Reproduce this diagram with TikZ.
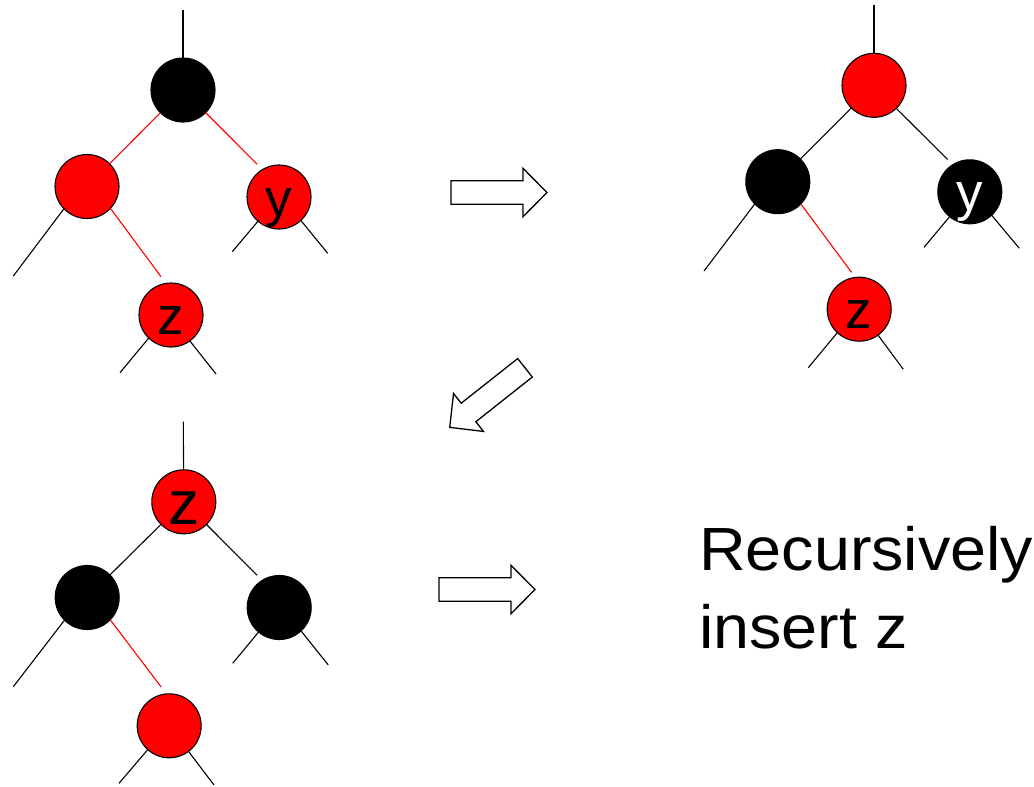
\documentclass[tikz,border=0pt]{standalone}
\usepackage{fontspec}
\setmainfont{Liberation Sans}
\begin{document}
\begin{tikzpicture}[x=1pt, y=-1pt,
  rbnode/.style={circle, draw=black, line width=1.1pt, minimum size=64pt,
    inner sep=0pt, outer sep=0pt, text height=38pt, text depth=0pt,
    font=\fontsize{53}{60}\selectfont},
  rednode/.style={rbnode, fill=red},
  blacknode/.style={rbnode, fill=black, text=white},
  bigletter/.style={text height=45pt, font=\fontsize{62}{70}\selectfont},
  edge/.style={line width=1.1pt, black},
  redge/.style={line width=1.1pt, red},
  caption/.style={anchor=base west, inner sep=0pt, font=\fontsize{61}{72}\selectfont},
  blockarrow/.pic={\draw[line width=1.3pt, fill=white, line join=miter]
    (0,11.8) -- (72,11.8) -- (72,24.2) -- (96,0) -- (72,-24.2) -- (72,-11.8) -- (0,-11.8) -- cycle;}
]
\useasboundingbox (0,0) rectangle (1034,787);

% ---- first tree: black root, red children ----
\node[blacknode] (root1) at (183,90) {};
\node[rednode] (left1) at (87,186.5) {};
\node[rednode] (y1) at (279,197) {y};
\node[rednode] (z1) at (171,315) {z};
\coordinate (t1) at (183,10);
\coordinate (l1a) at (13.3,276);
\coordinate (y1a) at (232.3,251.7);
\coordinate (y1b) at (327.7,253.3);
\coordinate (z1a) at (120,372.7);
\coordinate (z1b) at (216,374);
\draw[edge] (t1) -- (root1);
\draw[redge] (root1) -- (left1);
\draw[redge, shorten >=7.6pt] (root1.-45) -- (y1.121);
\draw[redge, shorten >=8.5pt] (left1.-43) -- (z1.99);
\draw[edge] (left1.224) -- (l1a);
\draw[edge] (y1.229) -- (y1a);
\draw[edge] (y1.-47) -- (y1b);
\draw[edge] (z1.226) -- (z1a);
\draw[edge] (z1.-54) -- (z1b);

% ---- second tree: recoloured ----
\node[rednode] (root2) at (874,85.3) {};
\node[blacknode] (left2) at (777.8,181.7) {};
\node[blacknode] (y2) at (969.8,191.8) {y};
\node[rednode] (z2) at (859.2,309.2) {z};
\coordinate (t2) at (874,5);
\coordinate (l2a) at (704,271);
\coordinate (y2a) at (924,247.3);
\coordinate (y2b) at (1019.3,248.3);
\coordinate (z2a) at (808.3,367.7);
\coordinate (z2b) at (903.3,369.3);
\draw[edge] (t2) -- (root2);
\draw[edge] (root2) -- (left2);
\draw[edge, shorten >=7.3pt] (root2.-46) -- (y2.122);
\draw[redge, shorten >=6.3pt] (left2.-44) -- (z2.97);
\draw[edge] (left2.224) -- (l2a);
\draw[edge] (y2.231) -- (y2a);
\draw[edge] (y2.-47) -- (y2b);
\draw[edge] (z2.227) -- (z2a);
\draw[edge] (z2.-54) -- (z2b);

% ---- third tree: z moved up ----
\node[rednode, bigletter] (root3) at (183.8,501.8) {z};
\node[blacknode] (left3) at (87.2,597.5) {};
\node[blacknode] (right3) at (279.2,607.5) {};
\node[rednode] (bot3) at (169.2,725.8) {};
\coordinate (t3) at (183.3,421.7);
\coordinate (l3a) at (13.3,686.7);
\coordinate (r3a) at (232.7,663.3);
\coordinate (r3b) at (328.3,665);
\coordinate (b3a) at (119,783.3);
\coordinate (b3b) at (214,785);
\draw[edge] (t3) -- (root3);
\draw[edge] (root3) -- (left3);
\draw[edge, shorten >=7.2pt] (root3.-45) -- (right3.122);
\draw[redge, shorten >=8.6pt] (left3.-44) -- (bot3.95);
\draw[edge] (left3.225) -- (l3a);
\draw[edge] (right3.230) -- (r3a);
\draw[edge] (right3.-47) -- (r3b);
\draw[edge] (bot3.228) -- (b3a);
\draw[edge] (bot3.-53) -- (b3b);

% ---- transition arrows ----
\pic at (451,192.5) {blockarrow};
\pic[rotate=218.35] at (525,367.8) {blockarrow};
\pic at (439,589.5) {blockarrow};

% ---- caption ----
\node[caption] (rec) at (699,570) {\scalebox{1.06}[1]{Recursively}};
\node[caption] (ins) at (699,648) {\scalebox{1.06}[1]{insert z}};
\end{tikzpicture}
\end{document}
